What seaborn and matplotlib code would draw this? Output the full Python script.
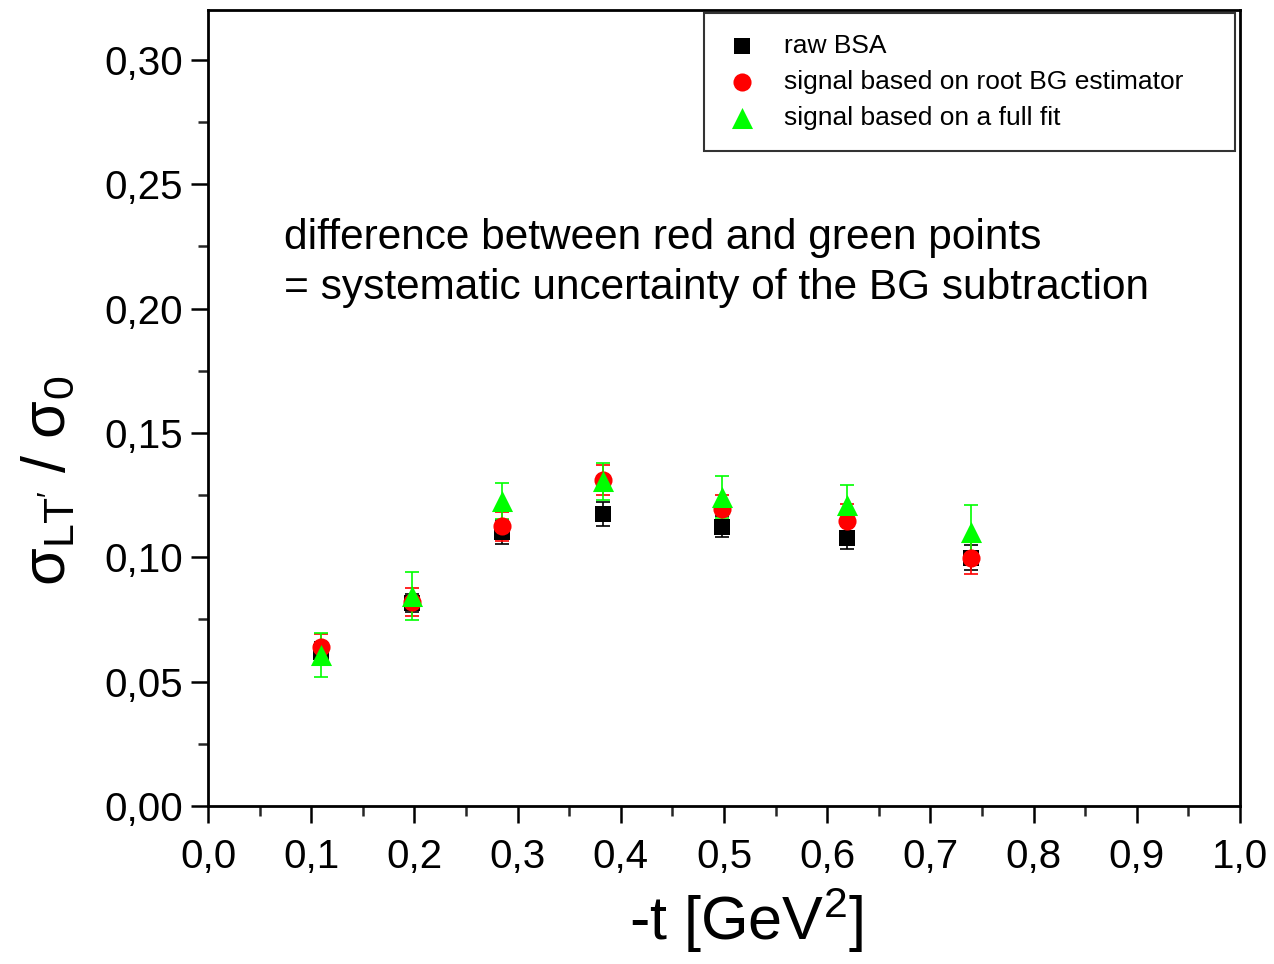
import numpy as np
import pandas as pd
import seaborn as sns
import matplotlib
matplotlib.use("Agg")
import matplotlib.pyplot as plt
from matplotlib.ticker import MultipleLocator, FuncFormatter

# -t bins [GeV^2]
t_raw = [0.109, 0.198, 0.285, 0.383, 0.498, 0.619, 0.739]
t_root = [0.109, 0.198, 0.285, 0.383, 0.498, 0.619, 0.739]
t_fit = [0.109, 0.198, 0.285, 0.383, 0.498, 0.619, 0.739]

# sigma_LT' / sigma_0 values and uncertainties
raw_bsa = [0.062, 0.0815, 0.110, 0.1175, 0.1122, 0.1079, 0.0999]
raw_err = [0.004, 0.0036, 0.0048, 0.0049, 0.0042, 0.0045, 0.0050]
root_bg = [0.064, 0.082, 0.1125, 0.1312, 0.1192, 0.1146, 0.0998]
root_err = [0.005, 0.0055, 0.0058, 0.0060, 0.0060, 0.0067, 0.0066]
full_fit = [0.0606, 0.0845, 0.1225, 0.1305, 0.1242, 0.1209, 0.1100]
fit_err = [0.0088, 0.0096, 0.0072, 0.0074, 0.0086, 0.0082, 0.0110]

series_names = ["raw BSA", "signal based on root BG estimator", "signal based on a full fit"]

df = pd.concat([
    pd.DataFrame({"t": t_raw, "ratio": raw_bsa, "err": raw_err, "series": series_names[0]}),
    pd.DataFrame({"t": t_root, "ratio": root_bg, "err": root_err, "series": series_names[1]}),
    pd.DataFrame({"t": t_fit, "ratio": full_fit, "err": fit_err, "series": series_names[2]}),
], ignore_index=True)

sns.set_theme(style="ticks")
plt.rcParams["font.family"] = ["Liberation Sans", "DejaVu Sans"]
plt.rcParams["text.color"] = "black"
plt.rcParams["axes.labelcolor"] = "black"
plt.rcParams["mathtext.fontset"] = "custom"
plt.rcParams["mathtext.rm"] = "Liberation Sans"
plt.rcParams["mathtext.it"] = "Liberation Sans:italic"

fig = plt.figure(figsize=(12.74, 9.64), dpi=100)
ax = fig.add_axes([0.1633, 0.1639, 0.8100, 0.8257])

colors = {series_names[0]: "#000000", series_names[1]: "#ff0000", series_names[2]: "#00ff00"}
markers = {series_names[0]: "s", series_names[1]: "o", series_names[2]: "^"}
sizes = {series_names[0]: 140, series_names[1]: 170, series_names[2]: 230}

for name in series_names:
    sub = df[df["series"] == name]
    ax.errorbar(sub["t"], sub["ratio"], yerr=sub["err"], fmt="none",
                ecolor=colors[name], elinewidth=1.2, capsize=5, capthick=1.2, zorder=2)
    sns.scatterplot(data=sub, x="t", y="ratio", ax=ax, color=colors[name],
                    marker=markers[name], s=sizes[name], linewidth=0,
                    label=name, zorder=3)

ax.set_xlim(0, 1.0)
ax.set_ylim(0, 0.32)
ax.xaxis.set_major_locator(MultipleLocator(0.1))
ax.xaxis.set_minor_locator(MultipleLocator(0.05))
ax.yaxis.set_major_locator(MultipleLocator(0.05))
ax.yaxis.set_minor_locator(MultipleLocator(0.025))
ax.xaxis.set_major_formatter(FuncFormatter(lambda v, p: f"{v:.1f}".replace(".", ",")))
ax.yaxis.set_major_formatter(FuncFormatter(lambda v, p: f"{v:.2f}".replace(".", ",")))

ax.tick_params(which="major", direction="out", length=12, width=1.8, labelsize=29,
               colors="black")
ax.tick_params(which="minor", direction="out", length=7, width=1.8)
ax.tick_params(axis="x", which="major", pad=11)
ax.tick_params(axis="y", which="major", pad=6)
for sp in ax.spines.values():
    sp.set_linewidth(2.0)
    sp.set_color("black")
    sp.set_visible(True)

ax.set_xlabel(r"-t [GeV$^\mathregular{2}$]", fontsize=44)
ax.xaxis.set_label_coords(0.521, -0.100)
ax.set_ylabel(r"σ$_\mathregular{LT'}$ / σ$_\mathregular{0}$", fontsize=44)
ax.yaxis.set_label_coords(-0.127, 0.408)

ax.text(0.074, 0.682, "difference between red and green points\n= systematic uncertainty of the BG subtraction",
        transform=ax.transAxes, fontsize=30.5, va="center", ha="left", linespacing=1.33)

leg = ax.legend(loc="upper left", bbox_to_anchor=(0.4806, 0.5, 0.5145, 0.496),
                mode="expand", fontsize=19, frameon=True, fancybox=False,
                edgecolor="black", borderpad=0.8, labelspacing=0.45,
                handlelength=1.29, handletextpad=0.95, borderaxespad=0,
                markerscale=1.0)
leg.get_frame().set_linewidth(1.5)

fig.savefig("out.png", dpi=100)
